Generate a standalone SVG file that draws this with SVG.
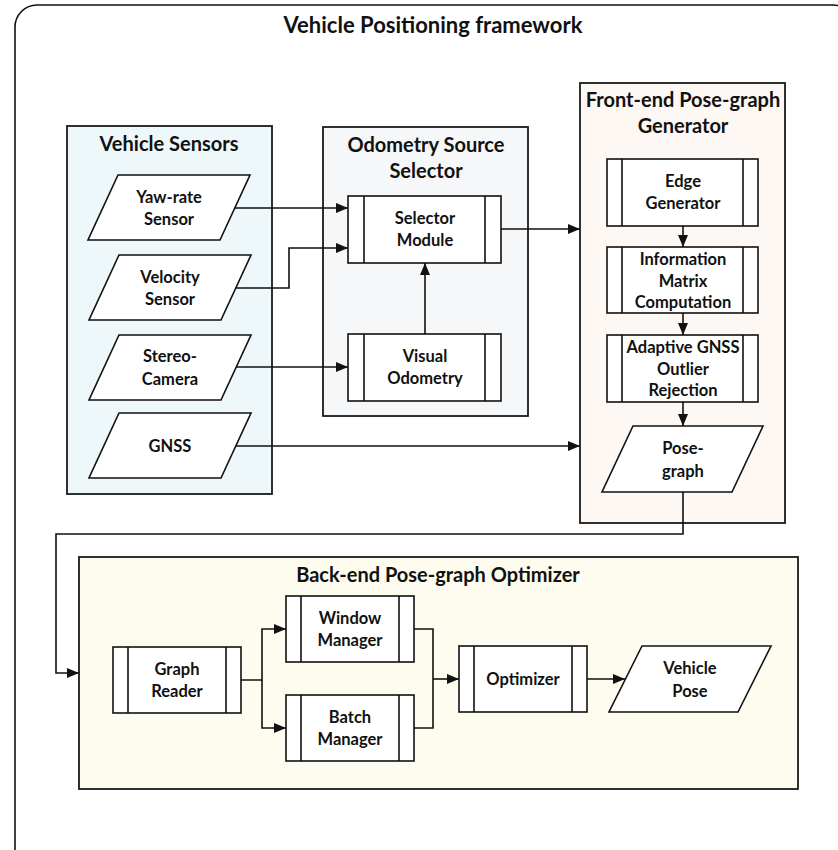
<svg xmlns="http://www.w3.org/2000/svg" width="838" height="850" viewBox="0 0 838 850">
<defs>
<style>
text{font-family:Lato,"Open Sans","Liberation Sans",sans-serif;font-weight:bold;fill:#111;text-anchor:middle}
.t{font-size:16.5px}
.g{font-size:20px}
.h{font-size:22px}
.grp{stroke:#1a1a1a;stroke-width:1.8}
.nd{fill:#fff;stroke:#111;stroke-width:1.6}
.bar{stroke:#111;stroke-width:1.6}
.cn{fill:none;stroke:#111;stroke-width:1.6}
</style>
<marker id="ah" markerUnits="userSpaceOnUse" markerWidth="12" markerHeight="10" refX="12" refY="5" orient="auto">
<path d="M0,0 L12,5 L0,10 z" fill="#111"/>
</marker>
</defs>
<rect width="838" height="850" fill="#fff"/>
<g id="frame">
<rect x="15" y="5" width="840" height="870" rx="22" fill="none" stroke="#111" stroke-width="1.6"/>
<text class="h" x="433" y="33">Vehicle Positioning framework</text>
</g>
<g id="vehicle-sensors">
<rect class="grp" x="67" y="126" width="205" height="368" fill="#eef8fa"/>
<text class="g" x="169" y="151">Vehicle Sensors</text>
</g>
<g id="odometry-source-selector">
<rect class="grp" x="323" y="127" width="205" height="289" fill="#f6f7f9"/>
<text class="g" x="426" y="152">Odometry Source</text>
<text class="g" x="426" y="178">Selector</text>
</g>
<g id="front-end">
<rect class="grp" x="580" y="83" width="205" height="440" fill="#fdf8f4"/>
<text class="g" x="683" y="107">Front-end Pose-graph</text>
<text class="g" x="683" y="133">Generator</text>
</g>
<g id="back-end">
<rect class="grp" x="79" y="557" width="719" height="232" fill="#fefcef"/>
<text class="g" x="438" y="582">Back-end Pose-graph Optimizer</text>
</g>
<g id="connectors">
<path class="cn" d="M235 208 H348" marker-end="url(#ah)"/>
<path class="cn" d="M236 288 H289 V248 H348" marker-end="url(#ah)"/>
<path class="cn" d="M236 367 H348" marker-end="url(#ah)"/>
<path class="cn" d="M236 446 H580" marker-end="url(#ah)"/>
<path class="cn" d="M425 334 V263" marker-end="url(#ah)"/>
<path class="cn" d="M501 229 H580" marker-end="url(#ah)"/>
<path class="cn" d="M683 226 V247" marker-end="url(#ah)"/>
<path class="cn" d="M683 313 V335" marker-end="url(#ah)"/>
<path class="cn" d="M683 402 V426" marker-end="url(#ah)"/>
<path class="cn" d="M683 492 V534 H56 V673 H79" marker-end="url(#ah)"/>
<path class="cn" d="M241 680 H262 V629 H286" marker-end="url(#ah)"/>
<path class="cn" d="M262 680 V728 H286" marker-end="url(#ah)"/>
<path class="cn" d="M414 629 H433 V728 H414"/>
<path class="cn" d="M433 679 H459" marker-end="url(#ah)"/>
<path class="cn" d="M587 679 H625" marker-end="url(#ah)"/>
</g>
<g id="yaw-rate-sensor">
<polygon class="nd" points="118,175 250,175 220,240 88,240"/>
<text class="t" x="169" y="203">Yaw-rate</text>
<text class="t" x="169" y="225">Sensor</text>
</g>
<g id="velocity-sensor">
<polygon class="nd" points="119,255 251,255 221,320 89,320"/>
<text class="t" x="170" y="283">Velocity</text>
<text class="t" x="170" y="305">Sensor</text>
</g>
<g id="stereo-camera">
<polygon class="nd" points="119,335 251,335 221,400 89,400"/>
<text class="t" x="170" y="362">Stereo-</text>
<text class="t" x="170" y="385">Camera</text>
</g>
<g id="gnss">
<polygon class="nd" points="119,413 251,413 221,478 89,478"/>
<text class="t" x="170" y="452">GNSS</text>
</g>
<g id="selector-module">
<rect class="nd" x="348" y="196" width="153" height="67"/>
<path class="bar" d="M364 196 V263 M485 196 V263"/>
<text class="t" x="425" y="224">Selector</text>
<text class="t" x="425" y="246">Module</text>
</g>
<g id="visual-odometry">
<rect class="nd" x="348" y="334" width="153" height="67"/>
<path class="bar" d="M364 334 V401 M485 334 V401"/>
<text class="t" x="425" y="362">Visual</text>
<text class="t" x="425" y="384">Odometry</text>
</g>
<g id="edge-generator">
<rect class="nd" x="607" y="159" width="151" height="67"/>
<path class="bar" d="M622 159 V226 M743 159 V226"/>
<text class="t" x="683" y="187">Edge</text>
<text class="t" x="683" y="209">Generator</text>
</g>
<g id="information-matrix">
<rect class="nd" x="607" y="247" width="151" height="66"/>
<path class="bar" d="M622 247 V313 M743 247 V313"/>
<text class="t" x="683" y="265">Information</text>
<text class="t" x="683" y="287">Matrix</text>
<text class="t" x="683" y="308">Computation</text>
</g>
<g id="adaptive-gnss">
<rect class="nd" x="607" y="335" width="151" height="67"/>
<path class="bar" d="M622 335 V402 M743 335 V402"/>
<text class="t" x="683" y="353">Adaptive GNSS</text>
<text class="t" x="683" y="375">Outlier</text>
<text class="t" x="683" y="396">Rejection</text>
</g>
<g id="pose-graph">
<polygon class="nd" points="633,426 763,426 732,492 602,492"/>
<text class="t" x="683" y="454">Pose-</text>
<text class="t" x="683" y="477">graph</text>
</g>
<g id="graph-reader">
<rect class="nd" x="113" y="647" width="128" height="66"/>
<path class="bar" d="M128 647 V713 M226 647 V713"/>
<text class="t" x="177" y="675">Graph</text>
<text class="t" x="177" y="697">Reader</text>
</g>
<g id="window-manager">
<rect class="nd" x="286" y="596" width="128" height="66"/>
<path class="bar" d="M301 596 V662 M399 596 V662"/>
<text class="t" x="350" y="624">Window</text>
<text class="t" x="350" y="646">Manager</text>
</g>
<g id="batch-manager">
<rect class="nd" x="286" y="695" width="128" height="66"/>
<path class="bar" d="M301 695 V761 M399 695 V761"/>
<text class="t" x="350" y="723">Batch</text>
<text class="t" x="350" y="745">Manager</text>
</g>
<g id="optimizer">
<rect class="nd" x="459" y="646" width="128" height="66"/>
<path class="bar" d="M474 646 V712 M572 646 V712"/>
<text class="t" x="523" y="685">Optimizer</text>
</g>
<g id="vehicle-pose">
<polygon class="nd" points="642,646 771,646 738,712 609,712"/>
<text class="t" x="690" y="674">Vehicle</text>
<text class="t" x="690" y="697">Pose</text>
</g>
</svg>
